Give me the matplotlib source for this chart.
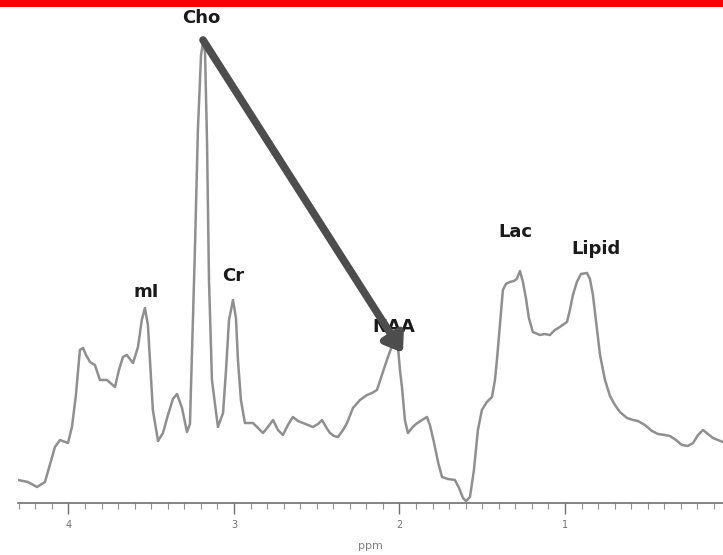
import numpy as np
import matplotlib
matplotlib.use("Agg")
import matplotlib.pyplot as plt
from matplotlib.patches import Rectangle

# spectrum trace (chemical shift in ppm, signal in a.u.)
ppm = [4.305, 4.245, 4.19, 4.142, 4.082, 4.051, 4.003, 3.979, 3.955, 3.931,
       3.912, 3.894, 3.870, 3.840, 3.810, 3.767, 3.719, 3.695, 3.671, 3.647,
       3.610, 3.580, 3.557, 3.538, 3.520, 3.490, 3.459, 3.429, 3.399, 3.369,
       3.344, 3.314, 3.284, 3.266, 3.248, 3.236, 3.218, 3.199, 3.187, 3.175,
       3.163, 3.151, 3.133, 3.097, 3.066, 3.048, 3.030, 3.006, 2.988, 2.976,
       2.958, 2.934, 2.885, 2.855, 2.825, 2.795, 2.764, 2.734, 2.704, 2.674,
       2.644, 2.613, 2.583, 2.553, 2.523, 2.492, 2.468, 2.444, 2.420, 2.396,
       2.372, 2.341, 2.317, 2.281, 2.239, 2.196, 2.166, 2.136, 2.106, 2.076,
       2.039, 2.009, 1.997, 1.985, 1.967, 1.949, 1.925, 1.900, 1.864, 1.834,
       1.816, 1.792, 1.767, 1.743, 1.707, 1.665, 1.640, 1.616, 1.598, 1.574,
       1.550, 1.526, 1.502, 1.472, 1.441, 1.423, 1.411, 1.393, 1.375, 1.357,
       1.333, 1.309, 1.291, 1.272, 1.254, 1.236, 1.218, 1.194, 1.151, 1.122,
       1.091, 1.061, 1.031, 0.988, 0.970, 0.952, 0.928, 0.903, 0.867, 0.849,
       0.831, 0.813, 0.788, 0.758, 0.728, 0.698, 0.668, 0.625, 0.589, 0.559,
       0.517, 0.474, 0.438, 0.396, 0.366, 0.329, 0.293, 0.257, 0.226, 0.196,
       0.166, 0.136, 0.106, 0.075, 0.045]
signal = [23, 21, 16, 21, 56, 63, 60, 76, 108, 153,
          155, 148, 141, 138, 123, 123, 116, 133, 146, 148,
          140, 156, 183, 195, 178, 93, 62, 70, 88, 104,
          109, 95, 71, 79, 183, 253, 373, 448, 461, 451,
          363, 223, 123, 76, 90, 133, 183, 203, 185, 143,
          103, 80, 80, 75, 70, 76, 83, 73, 68, 78,
          86, 82, 80, 78, 76, 79, 83, 76, 70, 67,
          66, 73, 80, 95, 103, 108, 110, 113, 128, 143,
          160, 156, 133, 116, 83, 70, 75, 79, 83, 86,
          78, 61, 41, 26, 24, 23, 15, 5, 2, 6,
          33, 73, 93, 101, 106, 123, 143, 178, 213, 219,
          221, 222, 224, 232, 221, 205, 185, 171, 168, 169,
          168, 173, 176, 181, 193, 208, 221, 229, 230, 224,
          208, 183, 148, 123, 107, 98, 91, 85, 83, 82,
          78, 72, 69, 68, 67, 63, 58, 57, 60, 68,
          73, 69, 65, 63, 61]

# metabolite labels
peak_names = ["Cho", "mI", "Cr", "NAA", "Lac", "Lipid"]
peak_ppm = [3.195, 3.532, 3.006, 2.033, 1.30, 0.812]
peak_lbl_y = [485, 211, 227, 176, 271, 254]

# arrow Cho -> NAA
arrow_from = (3.187, 463)
arrow_to = (1.979, 150)

major_ticks = [4, 3, 2, 1]
tick_labels = ["4", "3", "2", "1"]

W, H = 723, 555
fig = plt.figure(figsize=(W / 100, H / 100), dpi=100)
fig.patch.set_facecolor("white")
fig.patches.append(Rectangle((0, 1 - 7 / H), 1, 7 / H, transform=fig.transFigure,
                             facecolor="#ff0000", edgecolor="none"))

ax = fig.add_axes([18 / W, (H - 503) / H, (W - 18) / W, (503 - 7) / H])
ax.plot(ppm, signal, color="#8f8f8f", linewidth=1.8, solid_joinstyle="round")
ax.set_xlim(4.305, 0.045)
ax.set_ylim(0, 496)

for s in ["top", "right", "left"]:
    ax.spines[s].set_visible(False)
ax.spines["bottom"].set_color("#707070")
ax.spines["bottom"].set_linewidth(1.2)
ax.set_yticks([])
ax.set_xticks(major_ticks)
ax.set_xticklabels(tick_labels)
ax.set_xticks(np.arange(0.1, 4.31, 0.1), minor=True)
ax.tick_params(axis="x", which="major", direction="out", length=8, width=1,
               color="#707070", labelsize=7, labelcolor="#707070", pad=4)
ax.tick_params(axis="x", which="minor", direction="out", length=4, width=0.8,
               color="#909090")
ax.set_xlabel("ppm", fontsize=8, color="#808080", labelpad=8)
ax.set_facecolor("none")

for name, x, y in zip(peak_names, peak_ppm, peak_lbl_y):
    ax.text(x, y, name, ha="center", va="center", fontsize=13,
            fontweight="bold", color="#1a1a1a", family="DejaVu Sans",
            clip_on=False)

ax.annotate("", xy=arrow_to, xytext=arrow_from,
            arrowprops=dict(arrowstyle="-|>,head_length=1.0,head_width=0.7",
                            color="#4d4d4d", lw=5.5, shrinkA=0, shrinkB=0),
            zorder=5)

fig.savefig("out.png", dpi=100)
